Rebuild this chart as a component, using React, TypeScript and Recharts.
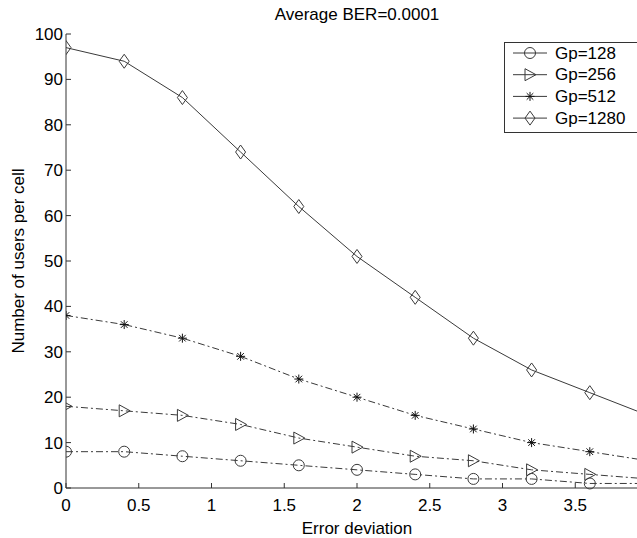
import React from 'react';
import { LineChart, Line, XAxis, YAxis, Legend } from 'recharts';

const xValues = [0, 0.4, 0.8, 1.2, 1.6, 2.0, 2.4, 2.8, 3.2, 3.6, 4.0];
const gp128 = [8, 8, 7, 6, 5, 4, 3, 2, 2, 1, 1];
const gp256 = [18, 17, 16, 14, 11, 9, 7, 6, 4, 3, 2];
const gp512 = [38, 36, 33, 29, 24, 20, 16, 13, 10, 8, 6];
const gp1280 = [97, 94, 86, 74, 62, 51, 42, 33, 26, 21, 16];

const xTicks = [0, 0.5, 1, 1.5, 2, 2.5, 3, 3.5];
const yTicks = [0, 10, 20, 30, 40, 50, 60, 70, 80, 90, 100];

const titleText = 'Average BER=0.0001';
const xLabelText = 'Error deviation';
const yLabelText = 'Number of users per cell';

const FONT = '"Liberation Sans", Arial, Helvetica, sans-serif';
const LINE_COLOR = '#3a3a3a';

type Shape = 'circle' | 'triangle' | 'star' | 'diamond';

const series: { key: string; name: string; shape: Shape; dash?: string }[] = [
  { key: 'g128', name: 'Gp=128', shape: 'circle', dash: '7 3 2 3' },
  { key: 'g256', name: 'Gp=256', shape: 'triangle', dash: '7 3 2 3' },
  { key: 'g512', name: 'Gp=512', shape: 'star', dash: '7 3 2 3' },
  { key: 'g1280', name: 'Gp=1280', shape: 'diamond' },
];

const tableData = xValues.map((x, i) => ({
  x,
  g128: gp128[i],
  g256: gp256[i],
  g512: gp512[i],
  g1280: gp1280[i],
}));

function Marker({ shape, cx, cy }: { shape: Shape; cx: number; cy: number }) {
  const st = { fill: 'none', stroke: LINE_COLOR, strokeWidth: 1 };
  if (cx == null || cy == null || isNaN(cx) || isNaN(cy)) return <g />;
  switch (shape) {
    case 'circle':
      return <circle cx={cx} cy={cy} r={5.5} {...st} />;
    case 'triangle':
      return (
        <polygon
          points={`${cx - 5},${cy - 6} ${cx + 6},${cy} ${cx - 5},${cy + 6}`}
          {...st}
        />
      );
    case 'star': {
      const s = 4.5;
      const d = 3.3;
      return (
        <g {...st} stroke="#111">
          <line x1={cx - s} y1={cy} x2={cx + s} y2={cy} />
          <line x1={cx} y1={cy - s} x2={cx} y2={cy + s} />
          <line x1={cx - d} y1={cy - d} x2={cx + d} y2={cy + d} />
          <line x1={cx - d} y1={cy + d} x2={cx + d} y2={cy - d} />
        </g>
      );
    }
    case 'diamond':
    default:
      return (
        <polygon
          points={`${cx},${cy - 7} ${cx + 5},${cy} ${cx},${cy + 7} ${cx - 5},${cy}`}
          {...st}
        />
      );
  }
}

const LegendBox = () => (
  <svg width={150} height={92} style={{ display: 'block' }}>
    <rect x={0.5} y={0.5} width={170} height={90} fill="#fff" stroke="#333" strokeWidth={1} />
    {series.map((s, i) => {
      const y = 11 + i * 21.7;
      return (
        <g key={s.key}>
          <line x1={9} x2={43} y1={y} y2={y} stroke={LINE_COLOR} strokeWidth={1} />
          <Marker shape={s.shape} cx={26} cy={y} />
          <text
            x={51}
            y={y}
            dominantBaseline="central"
            fontSize={17}
            fontFamily={FONT}
            fill="#000"
          >
            {s.name}
          </text>
        </g>
      );
    })}
  </svg>
);

const AxisTexts = () => (
  <g>
    <text
      x={18}
      y={261}
      transform="rotate(-90 18 261)"
      textAnchor="middle"
      dominantBaseline="central"
      fontSize={17}
      fontFamily={FONT}
      fill="#000"
    >
      {yLabelText}
    </text>
    <text
      x={357}
      y={20}
      textAnchor="middle"
      fontSize={17}
      fontFamily={FONT}
      fill="#000"
    >
      {titleText}
    </text>
  </g>
);

export default function App() {
  const tickStyle = { fontSize: 17, fill: '#000', fontFamily: FONT };
  return (
    <div
      style={{
        position: 'relative',
        width: 637,
        height: 538,
        overflow: 'hidden',
        background: '#fff',
      }}
    >
      <style>{'html,body{margin:0;padding:0;background:#fff;}'}</style>
      <LineChart
        width={700}
        height={538}
        data={tableData}
        margin={{ top: 34, right: 52, bottom: 20, left: 26 }}
      >
        <XAxis
          dataKey="x"
          type="number"
          domain={[0, 4]}
          ticks={xTicks}
          allowDataOverflow
          height={30}
          tickSize={-5}
          tickMargin={16}
          tick={tickStyle}
          axisLine={{ stroke: '#333' }}
          tickLine={{ stroke: '#333' }}
          label={{
            value: xLabelText,
            position: 'bottom',
            offset: 4,
            fontSize: 17,
            fill: '#000',
            fontFamily: FONT,
          }}
        />
        <XAxis
          xAxisId="top"
          dataKey="x"
          type="number"
          orientation="top"
          domain={[0, 4]}
          ticks={xTicks}
          allowDataOverflow
          height={0}
          tickSize={-5}
          tickFormatter={() => ''}
          axisLine={{ stroke: '#333' }}
          tickLine={{ stroke: '#333' }}
        />
        <YAxis
          type="number"
          domain={[0, 100]}
          ticks={yTicks}
          width={40}
          tickSize={-5}
          tickMargin={8}
          tick={tickStyle}
          axisLine={{ stroke: '#333' }}
          tickLine={{ stroke: '#333' }}
          label={<AxisTexts />}
        />
        <Legend
          layout="vertical"
          align="center"
          verticalAlign="middle"
          content={<LegendBox />}
          wrapperStyle={{ left: 504, top: 42, width: 150, height: 92 }}
        />
        {series.map((s) => (
          <Line
            key={s.key}
            dataKey={s.key}
            name={s.name}
            type="linear"
            stroke={LINE_COLOR}
            strokeWidth={1}
            strokeDasharray={s.dash}
            isAnimationActive={false}
            dot={(p: any) => (
              <Marker key={`${s.key}-${p.index}`} shape={s.shape} cx={p.cx} cy={p.cy} />
            )}
            activeDot={false}
          />
        ))}
      </LineChart>
    </div>
  );
}
